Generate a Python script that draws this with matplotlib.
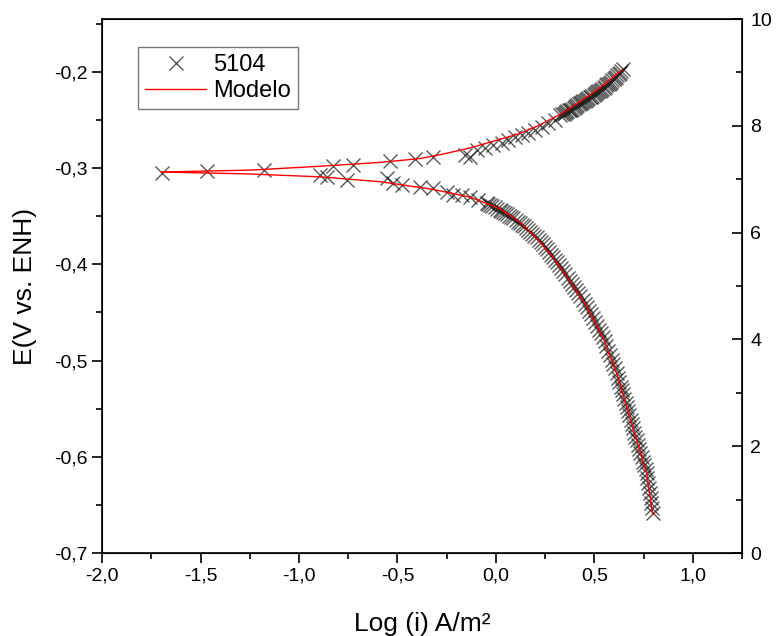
import matplotlib.pyplot as plt
from matplotlib.ticker import MultipleLocator, FuncFormatter

plt.rcParams['font.family'] = ['Liberation Sans', 'DejaVu Sans']

# Measured points, anodic branch (log i, E)
anod_logi = [-0.827, -0.726, -0.538, -0.411, -0.320, -0.157, -0.132, -0.096, -0.056, -0.015,
             0.030, 0.061, 0.096, 0.132, 0.162, 0.198, 0.234, 0.264, 0.299, 0.325,
             0.338, 0.350, 0.363, 0.376, 0.388, 0.401, 0.414, 0.426, 0.439, 0.452,
             0.464, 0.477, 0.490, 0.503, 0.515, 0.528, 0.540, 0.553, 0.566, 0.579,
             0.591, 0.604, 0.617, 0.629, 0.645,
             0.344, 0.357, 0.369, 0.382, 0.395, 0.407, 0.420, 0.433, 0.445, 0.458,
             0.470, 0.484, 0.496, 0.509, 0.521, 0.534, 0.547, 0.560, 0.572, 0.585,
             0.598, 0.610, 0.623, 0.637]
anod_E = [-0.298, -0.297, -0.293, -0.290, -0.288, -0.286, -0.288, -0.281, -0.279, -0.276,
          -0.274, -0.271, -0.268, -0.265, -0.263, -0.260, -0.257, -0.253, -0.250, -0.245,
          -0.244, -0.243, -0.241, -0.240, -0.238, -0.236, -0.234, -0.232, -0.231, -0.230,
          -0.228, -0.226, -0.225, -0.223, -0.221, -0.220, -0.218, -0.216, -0.213, -0.211,
          -0.208, -0.206, -0.203, -0.201, -0.197,
          -0.244, -0.242, -0.240, -0.239, -0.237, -0.235, -0.233, -0.232, -0.230, -0.229,
          -0.227, -0.226, -0.224, -0.222, -0.220, -0.219, -0.217, -0.214, -0.212, -0.210,
          -0.207, -0.205, -0.202, -0.199]

# Measured points, cathodic branch
cat_logi = [-1.695, -1.467, -1.178, -0.893, -0.858, -0.756, -0.553, -0.523, -0.477, -0.386,
            -0.320, -0.249, -0.218, -0.173, -0.132, -0.091, -0.046, -0.030, -0.005, 0.020,
            0.036, 0.056, 0.076, 0.100, 0.122, 0.142, 0.162, 0.185, 0.208, 0.228,
            0.249, 0.270, 0.289, 0.310, 0.330, 0.353, 0.376, 0.396, 0.416, 0.440,
            0.462, 0.482, 0.503, 0.523, 0.543, 0.561, 0.579, 0.597, 0.614, 0.627,
            0.640, 0.653, 0.665, 0.678, 0.690, 0.703, 0.716, 0.728, 0.741, 0.753,
            0.766, 0.774, 0.782, 0.790, 0.797,
            -0.038, -0.018, 0.008, 0.028, 0.046, 0.066, 0.088, 0.111, 0.132, 0.152,
            0.174, 0.196, 0.218, 0.238, 0.259, 0.280, 0.300, 0.320, 0.342, 0.365,
            0.386, 0.406, 0.428, 0.451, 0.472, 0.493, 0.513, 0.533, 0.552, 0.570,
            0.588, 0.605, 0.620, 0.634, 0.646, 0.659, 0.671, 0.684, 0.697, 0.709,
            0.722, 0.734, 0.747, 0.760, 0.770, 0.778, 0.786, 0.794]
cat_E = [-0.305, -0.303, -0.302, -0.307, -0.309, -0.312, -0.310, -0.315, -0.317, -0.320,
         -0.321, -0.325, -0.328, -0.328, -0.330, -0.333, -0.336, -0.338, -0.340, -0.343,
         -0.346, -0.348, -0.351, -0.354, -0.357, -0.360, -0.364, -0.368, -0.372, -0.377,
         -0.382, -0.387, -0.392, -0.398, -0.404, -0.410, -0.417, -0.423, -0.430, -0.437,
         -0.444, -0.452, -0.460, -0.468, -0.475, -0.485, -0.494, -0.504, -0.513, -0.522,
         -0.531, -0.540, -0.548, -0.557, -0.566, -0.575, -0.583, -0.592, -0.600, -0.609,
         -0.617, -0.627, -0.638, -0.648, -0.658,
         -0.337, -0.339, -0.342, -0.344, -0.347, -0.350, -0.352, -0.356, -0.359, -0.362,
         -0.366, -0.370, -0.375, -0.379, -0.384, -0.390, -0.395, -0.401, -0.407, -0.414,
         -0.420, -0.427, -0.433, -0.441, -0.448, -0.456, -0.464, -0.471, -0.480, -0.490,
         -0.499, -0.508, -0.518, -0.527, -0.535, -0.544, -0.552, -0.562, -0.570, -0.579,
         -0.588, -0.596, -0.605, -0.613, -0.622, -0.632, -0.643, -0.653]

# Model curve
mod_up_logi = [-1.695, -1.249, -0.893, -0.589, -0.386, -0.284, -0.132, -0.081, 0.020, 0.122,
               0.223, 0.289, 0.360, 0.420, 0.477, 0.530, 0.579, 0.615, 0.640]
mod_up_E = [-0.304, -0.302, -0.298, -0.294, -0.290, -0.286, -0.279, -0.276, -0.270, -0.264,
            -0.255, -0.248, -0.240, -0.232, -0.224, -0.216, -0.208, -0.202, -0.198]
mod_lo_logi = [-1.695, -1.249, -0.893, -0.589, -0.320, -0.132, 0.020, 0.122, 0.208, 0.289,
               0.376, 0.462, 0.543, 0.614, 0.665, 0.716, 0.766, 0.797]
mod_lo_E = [-0.304, -0.306, -0.309, -0.314, -0.322, -0.330, -0.342, -0.356, -0.373, -0.392,
            -0.417, -0.444, -0.475, -0.513, -0.548, -0.583, -0.617, -0.660]

fig = plt.figure(figsize=(7.76, 6.36), dpi=100)
ax = fig.add_axes([0.1315, 0.1305, 0.8247, 0.8395])

mk = dict(ls='none', marker='x', ms=9.5, mew=1.0, color='#222222', alpha=0.75)
ax.plot(anod_logi, anod_E, label='5104', **mk)
ax.plot(cat_logi, cat_E, **mk)
ax.plot(mod_up_logi, mod_up_E, color='red', lw=1.0, label='Modelo')
ax.plot(mod_lo_logi, mod_lo_E, color='red', lw=1.0)

ax.set_xlim(-2.0, 1.25)
ax.set_ylim(-0.7, -0.145)

comma = lambda v, p: f'{v:.1f}'.replace('.', ',')
ax.xaxis.set_major_locator(MultipleLocator(0.5))
ax.xaxis.set_minor_locator(MultipleLocator(0.25))
ax.yaxis.set_major_locator(MultipleLocator(0.1))
ax.yaxis.set_minor_locator(MultipleLocator(0.05))
ax.xaxis.set_major_formatter(FuncFormatter(comma))
ax.yaxis.set_major_formatter(FuncFormatter(comma))
ax.tick_params(which='both', direction='out', labelsize=14, width=1.2)
ax.tick_params(which='major', length=7)
ax.tick_params(which='minor', length=4)
for s in ax.spines.values():
    s.set_linewidth(1.2)

ax.set_xlabel('Log (i) A/m²', fontsize=19, labelpad=20)
ax.set_ylabel('E(V vs. ENH)', fontsize=19, labelpad=12)

# right axis 0-10
ax2 = ax.twinx()
ax2.set_ylim(0, 10)
ax2.yaxis.set_major_locator(MultipleLocator(2))
ax2.yaxis.set_minor_locator(MultipleLocator(1))
ax2.tick_params(which='both', direction='in', labelsize=14, width=1.2, pad=6)
ax2.tick_params(which='major', length=7)
ax2.tick_params(which='minor', length=4)

leg = ax.legend(loc='upper left', bbox_to_anchor=(0.056, 0.947), borderaxespad=0,
                fontsize=17, fancybox=False, edgecolor='#555555', handlelength=2.6,
                handletextpad=0.3, borderpad=0.3, labelspacing=0.15)
leg.get_frame().set_linewidth(1.0)

plt.savefig('out.png', dpi=100)
